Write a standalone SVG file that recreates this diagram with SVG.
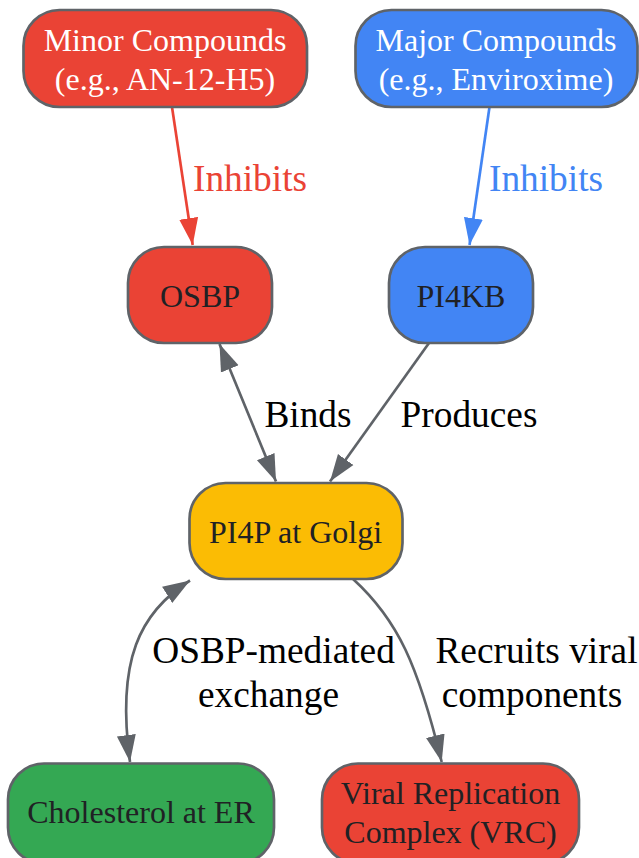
<svg xmlns="http://www.w3.org/2000/svg" width="639" height="858" viewBox="0 0 639 858">
<style>
.n{stroke:#5f6368;stroke-width:2.67}
.t{font-family:"Liberation Serif",serif;font-size:32px;text-anchor:middle}
.w{fill:#fff}.d{fill:#202124}.k{fill:#000;font-size:37.33px}
.e{fill:none;stroke:#5f6368;stroke-width:2.67}
</style>
<defs>
<marker id="ag" markerUnits="userSpaceOnUse" markerWidth="28" markerHeight="24" refX="27" refY="12" orient="auto-start-reverse"><path d="M0 2.500 L27 12 L0 21.500z" fill="#5f6368"/></marker>
<marker id="ar" markerUnits="userSpaceOnUse" markerWidth="28" markerHeight="24" refX="27" refY="12" orient="auto"><path d="M0 2.500 L27 12 L0 21.500z" fill="#ea4335"/></marker>
<marker id="ab" markerUnits="userSpaceOnUse" markerWidth="28" markerHeight="24" refX="27" refY="12" orient="auto"><path d="M0 2.500 L27 12 L0 21.500z" fill="#4285f4"/></marker>
</defs>
<g id="connectors">
<path d="M172 107 L192.700 245" fill="none" stroke="#ea4335" stroke-width="2.67" marker-end="url(#ar)"/>
<path d="M489.500 107 L469.500 245" fill="none" stroke="#4285f4" stroke-width="2.67" marker-end="url(#ab)"/>
<path class="e" d="M219.500 344 L276 481.500" marker-start="url(#ag)" marker-end="url(#ag)"/>
<path class="e" d="M429 343 L330 481.500" marker-end="url(#ag)"/>
<path class="e" d="M190 580.500 C140 612 116 660 130 762" marker-start="url(#ag)" marker-end="url(#ag)"/>
<path class="e" d="M353 579 C398 620 418 665 441.700 762" marker-end="url(#ag)"/>
</g>
<g id="minor"><rect class="n" x="23.500" y="10" width="283.500" height="97" rx="36" fill="#ea4335"/><text class="t w" x="165" y="51">Minor Compounds</text><text class="t w" x="165" y="90">(e.g., AN-12-H5)</text></g>
<g id="major"><rect class="n" x="355.500" y="10" width="282" height="97" rx="36" fill="#4285f4"/><text class="t w" x="496" y="51">Major Compounds</text><text class="t w" x="496" y="90">(e.g., Enviroxime)</text></g>
<g id="osbp"><rect class="n" x="128" y="247" width="144" height="96" rx="36" fill="#ea4335"/><text class="t d" x="200" y="307">OSBP</text></g>
<g id="pi4kb"><rect class="n" x="389" y="247" width="144" height="96" rx="36" fill="#4285f4"/><text class="t d" x="461" y="307">PI4KB</text></g>
<g id="pi4p"><rect class="n" x="189.500" y="483" width="213" height="96" rx="36" fill="#fbbc04"/><text class="t d" x="295.500" y="543">PI4P at Golgi</text></g>
<g id="chol"><rect class="n" x="8" y="763.500" width="266" height="100" rx="36" fill="#34a853"/><text class="t d" x="141" y="823">Cholesterol at ER</text></g>
<g id="vrc"><rect class="n" x="322" y="763.500" width="257" height="100" rx="36" fill="#ea4335"/><text class="t d" x="450.500" y="804">Viral Replication</text><text class="t d" x="450.500" y="843">Complex (VRC)</text></g>
<g id="labels">
<text class="t k" x="250" y="191" style="fill:#ea4335">Inhibits</text>
<text class="t k" x="546" y="191" style="fill:#4285f4">Inhibits</text>
<text class="t k" x="308" y="427">Binds</text>
<text class="t k" x="469" y="427">Produces</text>
<text class="t k" x="273.500" y="663">OSBP-mediated</text>
<text class="t k" x="268.500" y="707">exchange</text>
<text class="t k" x="536.500" y="663">Recruits viral</text>
<text class="t k" x="532" y="707">components</text>
</g>
</svg>
